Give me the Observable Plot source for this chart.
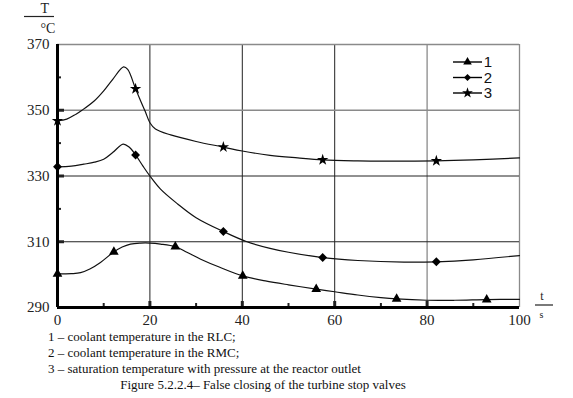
<!DOCTYPE html>
<html>
<head>
<meta charset="utf-8">
<script src="https://cdn.jsdelivr.net/npm/d3@7"></script>
<script src="https://cdn.jsdelivr.net/npm/@observablehq/plot@0.6"></script>
<style>
  body { margin: 0; background: #fff; }
  #wrap { position: relative; width: 573px; height: 398px; overflow: hidden; }
  svg text { font-family: "Liberation Serif", "Times New Roman", serif; }
  .cap { font-family: "Liberation Serif", "Times New Roman", serif; font-size: 13px; line-height: 16px; color: #111; }
  .cap .l { padding-left: 48px; white-space: nowrap; }
  .cap .f { width: 526px; text-align: center; white-space: nowrap; }
</style>
</head>
<body>
<div id="wrap"></div>
<script>
// Series 1 – coolant temperature in the RLC
const t1 = [0, 3, 5, 7, 9.3, 12.2, 14, 15.8, 18, 20, 22.3, 25.5, 28, 31, 35, 40.1, 45, 50, 56, 60, 65, 70, 73.4, 80, 86, 92.9, 100];
const v1 = [300.2, 300.3, 300.6, 301.7, 303.7, 306.9, 308.4, 309.3, 309.6, 309.6, 309.3, 308.5, 306.8, 304.7, 302.3, 299.6, 298.1, 296.9, 295.6, 294.8, 293.8, 293.0, 292.6, 292.2, 292.2, 292.4, 292.5];
// Series 2 – coolant temperature in the RMC
const t2 = [0, 3, 5.7, 8, 10, 12, 14.2, 15.5, 16.9, 18.5, 20, 22.3, 26, 30, 35.9, 41, 46, 50, 57.4, 65, 75, 82, 90, 100];
const v2 = [332.8, 333.0, 333.6, 334.2, 335.1, 337.2, 339.7, 338.8, 336.4, 333.0, 330, 326, 321.5, 317.3, 313.1, 310, 308, 306.8, 305.2, 304.3, 303.8, 303.9, 304.5, 305.8];
// Series 3 – saturation temperature
const t3 = [0, 2, 4, 5.3, 8, 10, 12, 14.3, 15.2, 16.9, 18, 19, 20, 21.2, 24.5, 30, 35.9, 40, 46, 52, 57.4, 65, 72, 82, 90, 100];
const v3 = [346.8, 347.3, 348.8, 350, 352.9, 355.9, 359.5, 363.2, 362.4, 356.5, 352.8, 349.6, 346.2, 344.3, 342.5, 340.5, 338.8, 337.6, 336.3, 335.5, 334.9, 334.6, 334.5, 334.6, 334.9, 335.5];

// Marker positions
const m1t = [0, 12.2, 25.5, 40.1, 56, 73.4, 92.9];
const m1v = [300.2, 306.9, 308.5, 299.6, 295.6, 292.6, 292.4];
const m2t = [0, 16.9, 35.9, 57.4, 82];
const m2v = [332.8, 336.4, 313.1, 305.2, 303.9];
const m3t = [0, 16.9, 35.9, 57.4, 82];
const m3v = [346.8, 356.5, 338.8, 334.9, 334.6];

const seriesNames = ["1", "2", "3"];
const symbols = ["triangle", "diamond2", "star"];

const xTicks = [0, 20, 40, 60, 80, 100];
const xMinor = [10, 30, 50, 70, 90];
const yTicks = [290, 310, 330, 350, 370];
const yMinor = [300, 320, 340, 360];
const gridXDark = [20, 40, 60];
const gridXLight = [80, 100];
const gridYDark = [310, 330];
const gridYLight = [350, 370];

const captions = [
  "1 – coolant temperature in the RLC;",
  "2 – coolant temperature in the RMC;",
  "3 – saturation temperature with pressure at the reactor outlet"
];
const figureTitle = "Figure 5.2.2.4– False closing of the turbine stop valves";

const toRows = (ts, vs) => ts.map((t, i) => ({t, v: vs[i]}));
const lines = [toRows(t1, v1), toRows(t2, v2), toRows(t3, v3)];
const marks = [toRows(m1t, m1v), toRows(m2t, m2v), toRows(m3t, m3v)];

const serif = "'Liberation Serif', 'Times New Roman', serif";

const plot = Plot.plot({
  width: 573,
  height: 335,
  marginLeft: 57,
  marginRight: 54,
  marginTop: 44,
  marginBottom: 28,
  style: {fontFamily: serif, fontSize: "15px", color: "#222", background: "#fff"},
  x: {domain: [0, 100]},
  y: {domain: [290, 370]},
  marks: [
    Plot.ruleX(gridXDark, {stroke: "#222", strokeWidth: 1}),
    Plot.ruleX(gridXLight, {stroke: "#8a8a8a", strokeWidth: 1.3}),
    Plot.ruleY(gridYDark, {stroke: "#222", strokeWidth: 1}),
    Plot.ruleY(gridYLight, {stroke: "#8a8a8a", strokeWidth: 1.3}),
    Plot.axisX({ticks: xTicks, tickSize: 0, tickPadding: 7, label: null, tickFormat: d => d, fontSize: 15}),
    Plot.axisY({ticks: yTicks, tickSize: 0, tickPadding: 8, label: null, tickFormat: d => d, fontSize: 15}),
    Plot.axisX({ticks: xTicks.slice(1, 5), tickSize: -6, strokeWidth: 3, text: null, label: null}),
    Plot.axisX({ticks: xMinor, tickSize: -4, strokeWidth: 2, text: null, label: null}),
    Plot.axisY({ticks: yTicks.slice(1, 4), tickSize: -7, strokeWidth: 3, text: null, label: null}),
    Plot.axisY({ticks: yMinor, tickSize: -4, strokeWidth: 2, text: null, label: null}),
    Plot.ruleX([0], {y1: 290, y2: 370, stroke: "#000", strokeWidth: 3}),
    Plot.ruleY([290], {x1: 0, x2: 100, stroke: "#000", strokeWidth: 3}),
    ...lines.map(d => Plot.line(d, {x: "t", y: "v", curve: "catmull-rom", stroke: "#111", strokeWidth: 1.2})),
    ...marks.map((d, i) => Plot.dot(d, {x: "t", y: "v", symbol: () => symbols[i], fill: "#000", stroke: "none", r: i === 1 ? 4 : 3.6})),
    // axis unit labels
    Plot.text(["T"], {frameAnchor: "top-left", dx: -17, dy: -41, fontSize: 14, fontFamily: serif}),
    Plot.text(["°C"], {frameAnchor: "top-left", dx: -17, dy: -21, fontSize: 14, fontFamily: serif}),
    Plot.text(["t"], {frameAnchor: "bottom-right", dx: 24, dy: -8, fontSize: 12, fontFamily: serif}),
    Plot.text(["s"], {frameAnchor: "bottom-right", dx: 24, dy: 10, fontSize: 10, fontFamily: serif})
  ]
});

const svg = d3.select(plot);
// divider lines for the unit labels
svg.append("line").attr("x1", 24).attr("x2", 54).attr("y1", 16.5).attr("y2", 16.5).attr("stroke", "#222").attr("stroke-width", 1.2);
svg.append("line").attr("x1", 535).attr("x2", 553).attr("y1", 305).attr("y2", 305).attr("stroke", "#222").attr("stroke-width", 1.2);

// legend
const lg = svg.append("g").attr("transform", "translate(453,62)");
seriesNames.forEach((name, i) => {
  const g = lg.append("g").attr("transform", `translate(0,${i * 15.5})`);
  g.append("line").attr("x1", 0).attr("x2", 29).attr("stroke", "#000").attr("stroke-width", 1.4);
  g.append("path").attr("d", d3.symbol(i === 0 ? d3.symbolTriangle : i === 1 ? d3.symbolDiamond2 : d3.symbolStar, i === 2 ? 36 : 32)()).attr("transform", "translate(14.5,0)").attr("fill", "#000");
  g.append("text").attr("x", 35).attr("y", 0).attr("dy", "0.36em").style("font-family", "'Liberation Sans', Arial, sans-serif").attr("font-size", 15).attr("fill", "#111").text(name);
});

const wrap = document.getElementById("wrap");
wrap.appendChild(plot);
const cap = document.createElement("div");
cap.className = "cap";
cap.style.marginTop = "-6px";
captions.forEach(c => {
  const d = document.createElement("div");
  d.className = "l";
  d.textContent = c;
  cap.appendChild(d);
});
const f = document.createElement("div");
f.className = "f";
f.textContent = figureTitle;
cap.appendChild(f);
wrap.appendChild(cap);
</script>
</body>
</html>
